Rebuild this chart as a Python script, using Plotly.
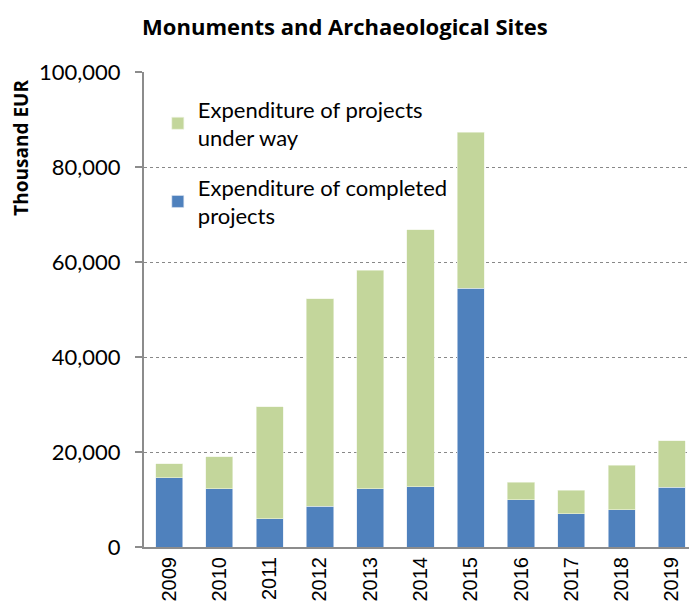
import plotly.graph_objects as go

# Data (thousand EUR)
years = ["2009", "2010", "2011", "2012", "2013", "2014",
         "2015", "2016", "2017", "2018", "2019"]
totals = [17.5, 19.0, 29.5, 52.3, 58.3, 66.8, 87.3, 13.6, 11.9, 17.2, 22.4]
completed = [14.6, 12.3, 6.0, 8.6, 12.3, 12.7, 54.5, 9.9, 7.0, 7.8, 12.6]

completed_k = [round(c * 1000) for c in completed]
under_way_k = [round((t - c) * 1000) for t, c in zip(totals, completed)]

blue = "#4F81BD"
green = "#C3D69B"
axis_grey = "#8C8C8C"

fig = go.Figure()

fig.add_trace(go.Bar(
    x=years, y=completed_k, name="Expenditure of completed<br>projects",
    marker=dict(color=blue, line=dict(color="#dfe8f3", width=0.6)),
    legendgroup="a", legendrank=2
))
fig.add_trace(go.Bar(
    x=years, y=under_way_k, name="Expenditure of projects<br>under way",
    marker=dict(color=green, line=dict(color="#eef3e3", width=0.6)),
    legendgroup="b", legendrank=1
))

# page body has an 8px margin, so the figure is 8px smaller than the window
fig.update_layout(
    width=689, height=604,
    barmode="stack", bargap=0.46,
    plot_bgcolor="white", paper_bgcolor="white",
    margin=dict(l=136, r=0, t=64, b=65),
    font=dict(family="Lato", size=21, color="black"),
    title=dict(text="<b>Monuments and Archaeological Sites</b>",
               x=0.489, xanchor="center", y=0.968, yanchor="middle",
               font=dict(family="Open Sans", size=22)),
    showlegend=True,
    legend=dict(x=0.025, y=0.966, xanchor="left", yanchor="top",
                traceorder="grouped", tracegroupgap=18,
                bgcolor="rgba(0,0,0,0)", font=dict(family="Lato", size=22)),
    annotations=[dict(
        text="<b>Thousand EUR</b>", textangle=-90,
        xref="paper", yref="paper", x=-0.224, y=0.841,
        xanchor="center", yanchor="middle", showarrow=False,
        font=dict(family="Open Sans", size=19)
    )],
)

fig.update_yaxes(
    range=[0, 100000], dtick=20000, tickformat=",",
    showgrid=True, gridcolor="#888888", griddash="dot", gridwidth=1,
    showline=True, linecolor=axis_grey, linewidth=2,
    ticks="outside", ticklen=7, tickcolor=axis_grey, tickwidth=2,
    ticklabelstandoff=10,
    zeroline=False, tickfont=dict(family="Lato", size=22),
)
fig.update_xaxes(
    showline=True, linecolor=axis_grey, linewidth=2,
    ticks="", tickangle=-90,
    tickfont=dict(family="Liberation Sans", size=20),
)

fig.write_html("out.html")
